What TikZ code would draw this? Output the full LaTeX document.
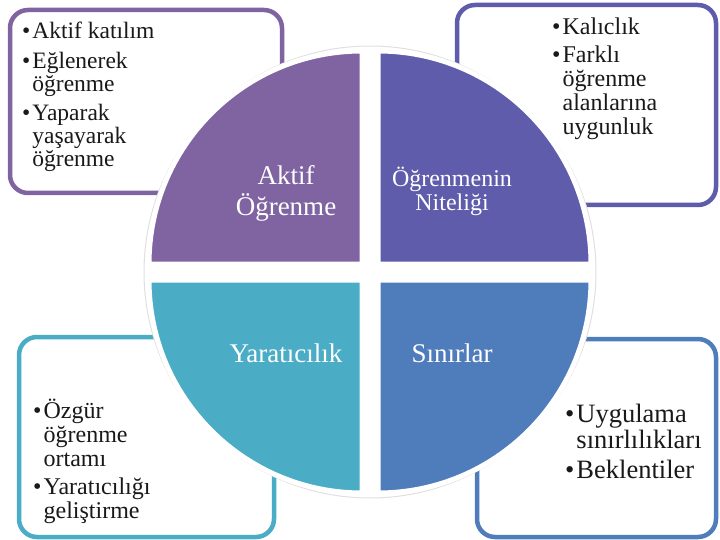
\documentclass[tikz,border=0pt]{standalone}
\usepackage{fontspec}
\setmainfont{Liberation Serif}
\definecolor{aktifcol}{RGB}{128,100,162}
\definecolor{nitelikcol}{RGB}{96,92,172}
\definecolor{yaraticol}{RGB}{75,172,198}
\definecolor{sinircol}{RGB}{79,124,187}
\tikzset{
  infobox/.style   = {draw, rounded corners=18pt, fill=white, line width=4.5pt,
                      inner sep=0pt},
  quad/.style      = {draw=white, line width=5pt},
  quadlabel/.style = {text=white, inner sep=0pt, anchor=base},
  itemlist/.style  = {inner sep=0pt, anchor=base west, text=black!90}
}
\newcommand\itemfont[2]{\fontsize{#1}{#2}\selectfont}

\begin{document}
\begin{tikzpicture}[x=1pt, y=1pt]
\useasboundingbox (0,0) rectangle (720,539);
% Boxes (behind the circle)
\node[infobox, draw=aktifcol, minimum width=272pt, minimum height=183pt]
  (boxAktif) at (146,437.5) {};
\node[infobox, draw=nitelikcol, minimum width=259pt, minimum height=200pt]
  (boxNitelik) at (586.5,434) {};
\node[infobox, draw=yaraticol, minimum width=255pt, minimum height=200pt]
  (boxYaratici) at (146.5,102) {};
\node[infobox, draw=sinircol, minimum width=239pt, minimum height=198pt]
  (boxSinir) at (596.5,101) {};
% White disc with faint shadow
\node[circle, fill=white, draw=black!12, line width=1pt, minimum size=452pt,
  inner sep=0pt] (disc) at (370,267) {};
% Quadrants: dx, dy, start angle, colour
\foreach \dx/\dy/\a/\col in {-1/1/90/aktifcol, 1/1/0/nitelikcol,
                             -1/-1/180/yaraticol, 1/-1/270/sinircol} {
  \filldraw[quad, fill=\col] (370+8*\dx,267+8*\dy) -- ++(\a:213pt)
    arc[start angle=\a, delta angle=90, radius=213pt] -- cycle;
}
% Quadrant labels
\node[quadlabel, font=\itemfont{27}{28}] (lblAktif) at (286,354)
  {\begin{tabular}[t]{@{}c@{}}Aktif\\Öğrenme\end{tabular}};
\node[quadlabel, font=\itemfont{24}{22}] (lblNitelik) at (452,352)
  {\begin{tabular}[t]{@{}c@{}}Öğrenmenin\\Niteliği\end{tabular}};
\node[quadlabel, font=\itemfont{27}{28}] (lblYaratici) at (286,177) {Yaratıcılık};
\node[quadlabel, font=\itemfont{27}{28}] (lblSinir) at (452,177) {Sınırlar};
% Bullet lists
\node[itemlist, font=\itemfont{23.5}{23}] (listAktif) at (22,500)
  {\begin{tabular}[t]{@{}l@{\hspace{2pt}}l@{}}
   \textbullet & Aktif katılım\\[6pt]
   \textbullet & Eğlenerek\\
               & öğrenme\\[6pt]
   \textbullet & Yaparak\\
               & yaşayarak\\
               & öğrenme
   \end{tabular}};
\node[itemlist, font=\itemfont{24}{24}] (listNitelik) at (552,504)
  {\begin{tabular}[t]{@{}l@{\hspace{2pt}}l@{}}
   \textbullet & Kalıclık\\[4pt]
   \textbullet & Farklı\\
               & öğrenme\\
               & alanlarına\\
               & uygunluk
   \end{tabular}};
\node[itemlist, font=\itemfont{24}{24}] (listYaratici) at (33,121)
  {\begin{tabular}[t]{@{}l@{\hspace{2pt}}l@{}}
   \textbullet & Özgür\\
               & öğrenme\\
               & ortamı\\[4pt]
   \textbullet & Yaratıcılığı\\
               & geliştirme
   \end{tabular}};
\node[itemlist, font=\itemfont{26.5}{26}] (listSinir) at (565,117)
  {\begin{tabular}[t]{@{}l@{\hspace{2pt}}l@{}}
   \textbullet & Uygulama\\
               & sınırlılıkları\\[4pt]
   \textbullet & Beklentiler
   \end{tabular}};
\end{tikzpicture}
\end{document}
